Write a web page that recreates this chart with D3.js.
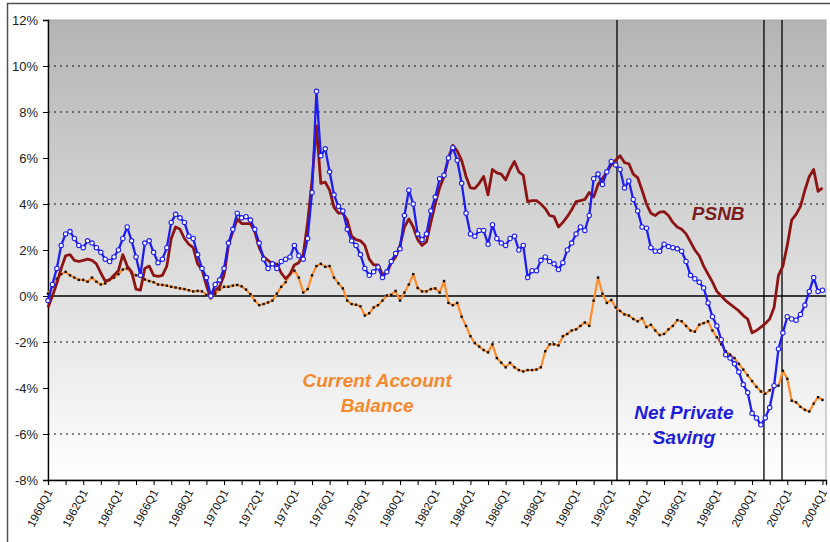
<!DOCTYPE html>
<html>
<head>
<meta charset="utf-8">
<script src="https://cdn.jsdelivr.net/npm/d3@7"></script>
<style>
  body { margin: 0; background: #fff; }
  svg { display: block; font-family: "Liberation Sans", Arial, sans-serif; }
</style>
</head>
<body>
<div id="chart"></div>
<script>
// quarterly data, 1960Q1 .. 2004Q1 (% of GDP)
const startYear = 1960;

const tickLabels = ["1960Q1", "1962Q1", "1964Q1", "1966Q1", "1968Q1", "1970Q1", "1972Q1", "1974Q1",
  "1976Q1", "1978Q1", "1980Q1", "1982Q1", "1984Q1", "1986Q1", "1988Q1", "1990Q1", "1992Q1",
  "1994Q1", "1996Q1", "1998Q1", "2000Q1", "2002Q1", "2004Q1"];

const yTicks = [-8, -6, -4, -2, 0, 2, 4, 6, 8, 10, 12];
const gridLevels = [10, 8, 4, -2, -6];

const psnb = [
  -0.5, 0.0, 0.55, 1.2, 1.75, 1.8, 1.55, 1.5, 1.55, 1.6,
  1.55, 1.4, 1.0, 0.65, 0.7, 0.9, 1.1, 1.8, 1.3, 1.05,
  0.3, 0.25, 1.2, 1.3, 0.9, 0.85, 0.9, 1.3, 2.5, 3.0,
  2.9, 2.5, 2.25, 2.1, 1.4, 1.15, 0.45, -0.1, 0.25, 0.4,
  0.9, 2.2, 2.8, 3.35, 3.15, 3.15, 3.15, 2.8, 2.1, 1.7,
  1.55, 1.4, 1.4, 1.0, 0.75, 0.95, 1.35, 1.45, 1.8, 3.2,
  5.0, 7.4, 4.9, 4.95, 4.6, 3.85, 3.6, 3.6, 3.3, 2.6,
  2.45, 2.4, 2.2, 1.6, 1.35, 1.35, 0.95, 1.0, 1.45, 1.7,
  2.2, 3.0, 3.35, 3.0, 2.45, 2.2, 2.35, 3.2, 4.0, 4.7,
  5.2, 6.0, 6.55, 6.3, 5.9, 5.2, 4.7, 4.68, 4.9, 5.2,
  4.4, 5.5, 5.35, 5.3, 5.05, 5.5, 5.85, 5.4, 5.25, 4.1,
  4.15, 4.15, 4.0, 3.8, 3.5, 3.45, 3.0, 3.2, 3.45, 3.75,
  4.1, 4.15, 4.2, 4.5, 4.3, 4.85, 5.1, 5.4, 5.7, 5.9,
  6.1, 5.8, 5.75, 5.3, 5.15, 4.6, 4.0, 3.6, 3.5, 3.65,
  3.67, 3.5, 3.2, 3.0, 2.9, 2.7, 2.35, 2.0, 1.75, 1.3,
  0.95, 0.6, 0.2, 0.0, -0.2, -0.35, -0.5, -0.65, -0.85, -1.0,
  -1.6, -1.5, -1.35, -1.2, -1.0, -0.5, 0.9, 1.3, 2.2, 3.3,
  3.55, 3.9, 4.6, 5.2, 5.5, 4.55, 4.7
];

const netPrivateSaving = [
  -0.2, 0.5, 1.2, 2.2, 2.7, 2.8, 2.5, 2.2, 2.1, 2.4,
  2.3, 2.1, 1.9, 1.6, 1.5, 1.7, 2.0, 2.5, 3.0, 2.4,
  1.7, 0.9, 2.3, 2.4, 1.9, 1.45, 1.6, 2.1, 3.2, 3.55,
  3.4, 3.2, 2.6, 2.5, 1.8, 1.2, 0.8, 0.0, 0.5, 0.7,
  1.2, 2.3, 2.9, 3.6, 3.4, 3.45, 3.3, 2.9, 2.3, 1.6,
  1.2, 1.4, 1.2, 1.5, 1.6, 1.7, 2.2, 1.75, 1.6, 2.5,
  4.5, 8.9, 6.1, 6.4, 5.4, 4.4, 3.9, 3.7, 2.9, 2.4,
  2.2, 1.8, 1.2, 0.9, 1.05, 1.25, 0.8, 1.05, 1.5, 1.85,
  2.05, 3.5, 4.6, 4.0, 2.7, 2.45, 2.7, 3.7, 4.3, 5.1,
  5.25, 6.0, 6.45, 5.9, 4.9, 3.6, 2.7, 2.6, 2.85, 2.85,
  2.25, 3.1, 2.5, 2.3, 2.2, 2.5, 2.6, 2.0, 2.2, 0.8,
  1.1, 1.1, 1.55, 1.7, 1.5, 1.4, 1.15, 1.45, 2.0, 2.3,
  2.7, 3.0, 2.85, 3.5, 5.1, 5.3, 4.85, 5.4, 5.85, 5.7,
  5.5, 4.7, 5.0, 4.2, 3.7, 3.0, 2.95, 2.1, 1.95, 1.95,
  2.25, 2.15, 2.1, 2.05, 1.95, 1.5, 0.9, 0.75, 0.6, 0.35,
  -0.3, -0.9, -1.3, -1.9, -2.55, -2.7, -2.95, -3.3, -3.85, -4.2,
  -5.1, -5.3, -5.6, -5.3, -4.85, -3.9, -2.3, -1.6, -0.9, -1.0,
  -1.05, -0.8, -0.4, 0.2, 0.8, 0.2, 0.25
];

const currentAccount = [
  0.1, 0.4, 0.75, 0.95, 1.05, 0.9, 0.8, 0.7, 0.7, 0.62,
  0.8, 0.62, 0.5, 0.55, 0.7, 0.8, 0.95, 1.15, 1.2, 1.0,
  0.9, 0.85, 0.72, 0.65, 0.6, 0.5, 0.48, 0.45, 0.4, 0.37,
  0.33, 0.3, 0.25, 0.2, 0.22, 0.2, 0.05, -0.03, 0.1, 0.28,
  0.4, 0.4, 0.45, 0.48, 0.42, 0.28, 0.08, -0.2, -0.4, -0.35,
  -0.28, -0.2, 0.1, 0.4, 0.6, 0.95, 1.1, 0.8, 0.15, 0.3,
  0.9, 1.3, 1.4, 1.27, 1.3, 0.8, 0.55, 0.33, -0.2, -0.35,
  -0.38, -0.45, -0.85, -0.75, -0.5, -0.4, -0.2, 0.02, 0.05, 0.22,
  -0.2, 0.15, 0.5, 0.95, 0.35, 0.2, 0.2, 0.3, 0.33, 0.15,
  0.65, -0.3, -0.4, -0.3, -0.9, -1.3, -1.75, -2.05, -2.2, -2.35,
  -2.45, -2.1, -2.7, -2.9, -3.1, -2.9, -3.1, -3.22, -3.28, -3.22,
  -3.22, -3.2, -3.1, -2.4, -2.1, -2.1, -2.15, -1.75, -1.65, -1.5,
  -1.45, -1.3, -1.15, -1.3, -0.2, 0.8, 0.1, -0.3, -0.17, -0.5,
  -0.65, -0.8, -0.85, -1.0, -1.1, -0.97, -1.35, -1.25, -1.5, -1.7,
  -1.65, -1.45, -1.3, -1.05, -1.1, -1.3, -1.5, -1.55, -1.25, -1.18,
  -1.1, -1.5, -1.8, -2.1, -2.4, -2.55, -2.7, -2.95, -3.2, -3.45,
  -3.7, -3.95, -4.15, -4.25, -4.1, -3.95, -3.9, -3.25, -3.6, -4.55,
  -4.62, -4.82, -4.95, -5.02, -4.68, -4.4, -4.52
];

// marked quarters (index from 1960Q1) for the vertical lines
const eventQuarters = [129.3, 162.7, 166.8];

const width = 830;
const height = 542;
const margin = { top: 20, right: 4, bottom: 62, left: 48 };

const svg = d3.select("#chart")
  .append("svg")
  .attr("width", width)
  .attr("height", height);

const x = d3.scaleLinear()
  .domain([0, 176.8])
  .range([margin.left, width - margin.right]);

const y = d3.scaleLinear()
  .domain([-8, 12])
  .range([height - margin.bottom, margin.top]);

// outer frame
svg.append("rect")
  .attr("x", 7.5).attr("y", 3.5)
  .attr("width", width + 4).attr("height", height + 4)
  .attr("fill", "none")
  .attr("stroke", "#505050")
  .attr("stroke-width", 1.5);

// plot background gradient
const grad = svg.append("defs").append("linearGradient")
  .attr("id", "bg").attr("x1", 0).attr("y1", 0).attr("x2", 0).attr("y2", 1);
grad.append("stop").attr("offset", "0%").attr("stop-color", "#b4b4b4");
grad.append("stop").attr("offset", "100%").attr("stop-color", "#ffffff");

svg.append("rect")
  .attr("x", x(0)).attr("y", y(12))
  .attr("width", x.range()[1] - x(0))
  .attr("height", y(-8) - y(12))
  .attr("fill", "url(#bg)")
  .attr("stroke", "#a8a8a8")
  .attr("stroke-width", 1);

// dotted gridlines
svg.append("g")
  .selectAll("line")
  .data(gridLevels)
  .join("line")
  .attr("x1", x(0)).attr("x2", x.range()[1])
  .attr("y1", d => y(d)).attr("y2", d => y(d))
  .attr("stroke", "#111")
  .attr("stroke-width", 1)
  .attr("stroke-dasharray", "2,4");

// zero line
svg.append("line")
  .attr("x1", x(0)).attr("x2", x.range()[1])
  .attr("y1", y(0)).attr("y2", y(0))
  .attr("stroke", "#000")
  .attr("stroke-width", 1.3);

// vertical event lines
svg.append("g")
  .selectAll("line")
  .data(eventQuarters)
  .join("line")
  .attr("x1", d => x(d)).attr("x2", d => x(d))
  .attr("y1", y(12)).attr("y2", y(-8))
  .attr("stroke", "#000")
  .attr("stroke-width", 1.3);

// y axis
const yAxis = d3.axisLeft(y)
  .tickValues(yTicks)
  .tickSize(5)
  .tickFormat(d => d + "%");

svg.append("g")
  .attr("transform", `translate(${x(0)},0)`)
  .call(yAxis)
  .call(g => g.select(".domain").attr("stroke", "#000").attr("stroke-width", 1.3))
  .call(g => g.selectAll(".tick line").attr("stroke", "#000"))
  .call(g => g.selectAll(".tick text")
    .attr("x", -10)
    .attr("fill", "#222")
    .style("font-size", "13px")
    .style("font-family", "'Liberation Sans', Arial, sans-serif"));

// x axis
const xTickValues = d3.range(0, 177, 4);
const xAxis = d3.axisBottom(x)
  .tickValues(xTickValues)
  .tickSize(5)
  .tickFormat(d => (d % 8 === 0 ? tickLabels[d / 8] : ""));

svg.append("g")
  .attr("transform", `translate(0,${y(-8)})`)
  .call(xAxis)
  .call(g => g.select(".domain").attr("stroke", "#000").attr("stroke-width", 1.3))
  .call(g => g.selectAll(".tick line").attr("stroke", "#000"))
  .call(g => g.selectAll(".tick text")
    .attr("text-anchor", "end")
    .attr("transform", "translate(1,10) rotate(-62)")
    .attr("x", 0).attr("y", 0).attr("dy", "0.35em")
    .attr("fill", "#111")
    .style("font-size", "11.5px")
    .style("font-family", "'Liberation Sans', Arial, sans-serif"));

// series
const line = d3.line()
  .x((d, i) => x(i))
  .y(d => y(d));

// current account
svg.append("path")
  .datum(currentAccount)
  .attr("fill", "none")
  .attr("stroke", "#ff8c2a")
  .attr("stroke-width", 2.2)
  .attr("stroke-linejoin", "round")
  .attr("d", line);

svg.append("g")
  .selectAll("rect")
  .data(currentAccount)
  .join("rect")
  .attr("x", (d, i) => x(i) - 1.2)
  .attr("y", d => y(d) - 1.2)
  .attr("width", 2.4)
  .attr("height", 2.4)
  .attr("fill", "#111");

// PSNB
svg.append("path")
  .datum(psnb)
  .attr("fill", "none")
  .attr("stroke", "#8c1414")
  .attr("stroke-width", 2.8)
  .attr("stroke-linejoin", "round")
  .attr("d", line);

// net private saving
svg.append("path")
  .datum(netPrivateSaving)
  .attr("fill", "none")
  .attr("stroke", "#1e1ef0")
  .attr("stroke-width", 2.3)
  .attr("stroke-linejoin", "round")
  .attr("d", line);

svg.append("g")
  .selectAll("circle")
  .data(netPrivateSaving)
  .join("circle")
  .attr("cx", (d, i) => x(i))
  .attr("cy", d => y(d))
  .attr("r", 2.2)
  .attr("fill", "#fff")
  .attr("stroke", "#1e1ef0")
  .attr("stroke-width", 1.1);

// series labels
const labels = [
  { text: "PSNB", q: 152.3, v: 3.3, color: "#7a1c1c" },
  { text: "Net Private", q: 144.5, v: -5.35, color: "#1e1ed8" },
  { text: "Saving", q: 144.5, v: -6.45, color: "#1e1ed8" },
  { text: "Current Account", q: 74.8, v: -3.95, color: "#f5892e" },
  { text: "Balance", q: 74.8, v: -5.05, color: "#f5892e" }
];

svg.append("g")
  .selectAll("text")
  .data(labels)
  .join("text")
  .attr("x", d => x(d.q))
  .attr("y", d => y(d.v))
  .attr("text-anchor", "middle")
  .attr("fill", d => d.color)
  .style("font-size", "19px")
  .style("font-weight", "bold")
  .style("font-style", "italic")
  .text(d => d.text);
</script>
</body>
</html>
